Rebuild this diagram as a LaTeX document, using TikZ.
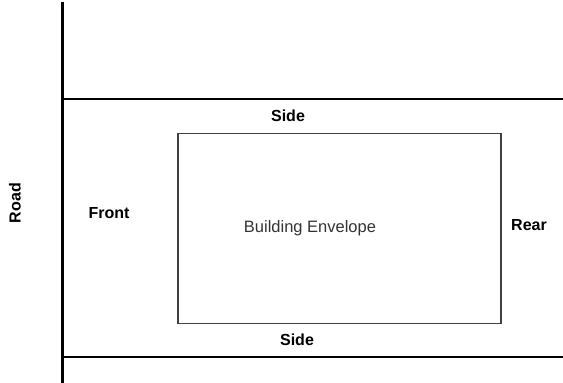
\documentclass[tikz,border=0pt]{standalone}
\usepackage{fontspec}
\setmainfont{Liberation Sans}
\begin{document}
\begin{tikzpicture}[x=1pt,y=-1pt,
  thickline/.style={line width=2.2pt,black},
  envelope/.style={draw=black!75,line width=1.2pt},
  lbl/.style={font=\fontsize{16}{18}\selectfont\bfseries,inner sep=0pt},
  plain/.style={font=\fontsize{16.5}{18}\selectfont,text=black!80,inner sep=0pt}]
\useasboundingbox (0,0) rectangle (563,383);
\coordinate (vtop) at (62.5,2);
\coordinate (vbot) at (62.5,383);
\coordinate (h1l) at (62.5,99);
\coordinate (h1r) at (563,99);
\coordinate (h2l) at (62.5,357);
\coordinate (h2r) at (563,357);
\draw[thickline] (vtop) -- (vbot);
\draw[thickline] (h1l) -- (h1r);
\draw[thickline] (h2l) -- (h2r);
\node[envelope,minimum width=323pt,minimum height=190pt,inner sep=0pt] (env) at (339.5,228.5) {};
\node[plain] (be) at (310,228) {Building Envelope};
\node[lbl] (side1) at (288,116) {Side};
\node[lbl] (side2) at (297,340) {Side};
\node[lbl] (front) at (109,213) {Front};
\node[lbl] (rear) at (529,225) {Rear};
\node[lbl,rotate=90] (road) at (15,203) {Road};
\end{tikzpicture}
\end{document}
